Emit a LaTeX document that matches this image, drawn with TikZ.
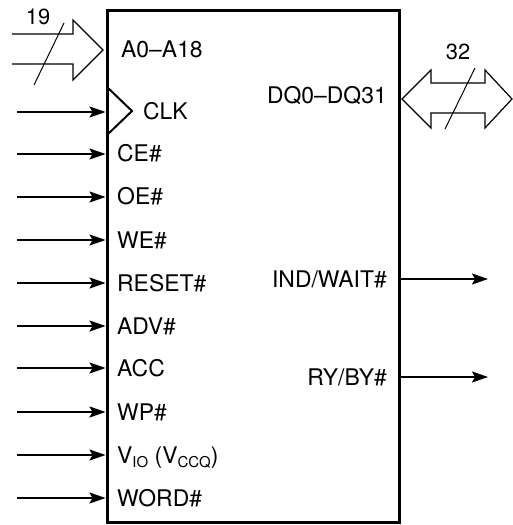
\documentclass[tikz,border=0pt]{standalone}
\usepackage{fontspec}
\setmainfont{TeX Gyre Heros}
\usetikzlibrary{arrows.meta}
\tikzset{
  sig/.style={line width=2bp,-{Stealth[length=16bp,width=11bp,inset=3bp]}},
  bus/.style={line width=1.2bp,fill=white,line join=miter},
  pinl/.style={inner sep=0pt,anchor=base west,font=\fontsize{23}{27}\selectfont},
  pinr/.style={inner sep=0pt,anchor=base east,font=\fontsize{23}{27}\selectfont},
  width/.style={inner sep=0pt,font=\fontsize{22}{26}\selectfont}
}
\newcommand{\sbx}[1]{\raisebox{-0.35ex}{\fontsize{15}{17}\selectfont #1}}
\begin{document}
\begin{tikzpicture}[x=1bp,y=-1bp]
\useasboundingbox (0,0) rectangle (513,525);
\node[draw,line width=3bp,minimum width=292bp,minimum height=511bp,inner sep=0pt,anchor=north west] (chip) at (105.5,9.5) {};
% address bus
\draw[bus] (12,34) -- (73,34) -- (73,20) -- (103,50) -- (73,80) -- (73,64) -- (12,64);
\draw[line width=1bp] (64,23) -- (34,85);
\node[width] (abits) at (38,17) {19};
\node[pinl] (addr) at (121,58) {A0–A18};
% data bus
\draw[bus] (402,99) -- (431,70) -- (431,83) -- (485,83) -- (485,70) -- (512,99) -- (485,128) -- (485,113) -- (431,113) -- (431,128) -- cycle;
\draw[line width=1bp] (475,68) -- (445,129);
\node[width] (dbits) at (458,52) {32};
\node[pinr] (data) at (387,104) {DQ0–DQ31};
% clock
\draw[line width=2bp,line join=miter] (107,87) -- (132,111) -- (107,135);
\coordinate (clk in) at (17,112);
\draw[sig] (clk in) -- (chip.west |- clk in);
\node[pinl] (clk) at (143,120) {CLK};
% inputs
\coordinate (ce in) at (17,154);
\draw[sig] (ce in) -- (chip.west |- ce in);
\node[pinl] (ce) at (117,162) {CE\#};
\coordinate (oe in) at (17,197);
\draw[sig] (oe in) -- (chip.west |- oe in);
\node[pinl] (oe) at (117,205) {OE\#};
\coordinate (we in) at (17,240);
\draw[sig] (we in) -- (chip.west |- we in);
\node[pinl] (we) at (117,248) {WE\#};
\coordinate (reset in) at (17,283);
\draw[sig] (reset in) -- (chip.west |- reset in);
\node[pinl] (reset) at (117,291) {RESET\#};
\coordinate (adv in) at (17,326);
\draw[sig] (adv in) -- (chip.west |- adv in);
\node[pinl] (adv) at (117,334) {ADV\#};
\coordinate (acc in) at (17,368);
\draw[sig] (acc in) -- (chip.west |- acc in);
\node[pinl] (acc) at (117,376) {ACC};
\coordinate (wp in) at (17,412);
\draw[sig] (wp in) -- (chip.west |- wp in);
\node[pinl] (wp) at (117,420) {WP\#};
\coordinate (vio in) at (17,455);
\draw[sig] (vio in) -- (chip.west |- vio in);
\node[pinl] (vio) at (117,463) {V\sbx{IO} (V\sbx{CCQ})};
\coordinate (word in) at (17,498);
\draw[sig] (word in) -- (chip.west |- word in);
\node[pinl] (word) at (117,506) {WORD\#};
% outputs
\coordinate (wait out) at (488,279);
\draw[sig] (chip.east |- wait out) -- (wait out);
\node[pinr] (wait) at (387,287) {IND/WAIT\#};
\coordinate (ry out) at (488,377);
\draw[sig] (chip.east |- ry out) -- (ry out);
\node[pinr] (ry) at (387,385) {RY/BY\#};
\end{tikzpicture}
\end{document}
